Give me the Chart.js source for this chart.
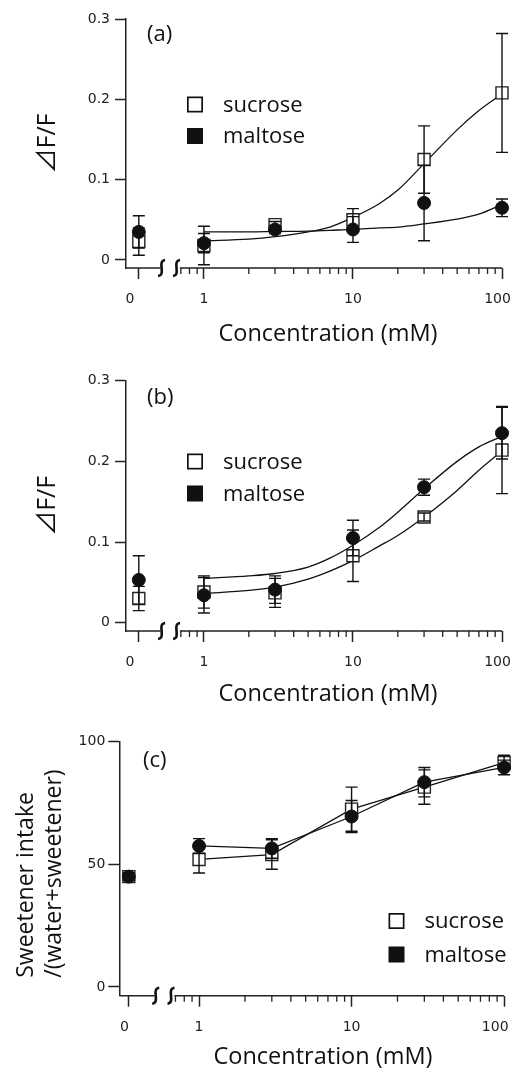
<!DOCTYPE html>
<html>
<head>
<meta charset="utf-8">
<script src="https://cdn.jsdelivr.net/npm/chart.js@4.4.1/dist/chart.umd.min.js"></script>
<style>
  html, body { margin: 0; padding: 0; background: #fff; }
  body { width: 514px; height: 1069px; position: relative; overflow: hidden; }
  canvas { position: absolute; left: 0; }
</style>
</head>
<body>
<canvas id="chart-a" width="514" height="350" style="top:0px"></canvas>
<canvas id="chart-b" width="514" height="355" style="top:350px"></canvas>
<canvas id="chart-c" width="514" height="364" style="top:705px"></canvas>
<script>
// Data: concentration in mM (0 = no sweetener, drawn left of the axis break)
const concentrations = [0, 1, 3, 10, 30, 100];
const seriesNames = ['sucrose', 'maltose'];

// (a) dF/F
const sucroseA = [0.023, 0.018, 0.044, 0.050, 0.125, 0.208];
const sucroseErrA = [0.017, 0.024, 0.004, 0.014, 0.042, 0.074];
const maltoseA = [0.035, 0.021, 0.038, 0.038, 0.071, 0.065];
const maltoseErrA = [0.020, 0.012, 0.005, 0.016, 0.047, 0.011];

// (b) dF/F
const sucroseB = [0.030, 0.038, 0.037, 0.083, 0.131, 0.214];
const sucroseErrB = [0.015, 0.020, 0.018, 0.032, 0.005, 0.054];
const maltoseB = [0.053, 0.034, 0.041, 0.105, 0.168, 0.235];
const maltoseErrB = [0.030, 0.022, 0.017, 0.022, 0.010, 0.032];

// fitted curves
const fitConc = [1, 2, 3, 5, 7, 10, 15, 20, 30, 50, 70, 100];
const sucroseFitA = [0.024, 0.026, 0.029, 0.035, 0.041, 0.053, 0.070, 0.087, 0.120, 0.162, 0.186, 0.207];
const maltoseFitA = [0.035, 0.035, 0.0355, 0.036, 0.037, 0.038, 0.040, 0.041, 0.045, 0.051, 0.057, 0.069];
const sucroseFitB = [0.036, 0.040, 0.044, 0.054, 0.064, 0.077, 0.095, 0.108, 0.131, 0.164, 0.189, 0.213];
const maltoseFitB = [0.055, 0.058, 0.061, 0.069, 0.080, 0.096, 0.118, 0.137, 0.166, 0.200, 0.218, 0.231];

// (c) sweetener intake / (water + sweetener), %
const sucroseC = [45, 52, 54, 72.5, 81.5, 91.5];
const sucroseErrC = [1.5, 5.5, 6, 9, 7, 3];
const maltoseC = [45, 57.5, 56.5, 69.5, 83.5, 89.5];
const maltoseErrC = [1.5, 3, 4, 6.5, 6, 3];

// Ticks
const xMajorConc = [0, 1, 10, 100];
const xTickLabels = ['0', '1', '10', '100'];
const xMinorConc = [0.7, 0.8, 0.9, 2, 3, 4, 5, 6, 7, 8, 9, 20, 30, 40, 50, 60, 70, 80, 90];
const yTicksRatio = [0, 0.1, 0.2, 0.3];
const yLabelsRatio = ['0', '0.1', '0.2', '0.3'];
const yTicksIntake = [0, 50, 100];
const yLabelsIntake = ['0', '50', '100'];

const AXIS = '#222';
const INK = '#111';
const TEXT_FONT = "'Open Sans', 'Noto Sans CJK JP', sans-serif";
const TICK_FONT = { family: "'DejaVu Sans', sans-serif", size: 14 };
const BREAK = [0.51, 0.69]; // gap in the x axis, mM
const SQUIGGLES = [0.52, 0.655];

Chart.defaults.animation = false;
Chart.defaults.devicePixelRatio = 1;

function toPoints(xs, ys, zeroAt) {
    return xs.map((c, i) => ({ x: c === 0 ? zeroAt : c, y: ys[i] }));
}

// error bars, broken x axis, minor ticks, legend and labels
const panelDecor = {
    id: 'panelDecor',
    afterDatasetDraw(chart, args) {
        const ds = chart.data.datasets[args.index];
        if (!ds.errors) return;
        const { ctx } = chart;
        const xs = chart.scales.x, ys = chart.scales.y;
        ctx.save();
        ctx.strokeStyle = INK;
        ctx.lineWidth = 1.4;
        ds.data.forEach((p, i) => {
            const e = ds.errors[i];
            const px = xs.getPixelForValue(p.x);
            const top = ys.getPixelForValue(p.y + e);
            const bot = ys.getPixelForValue(p.y - e);
            ctx.beginPath();
            ctx.moveTo(px, top); ctx.lineTo(px, bot);
            ctx.moveTo(px - 6, top); ctx.lineTo(px + 6, top);
            ctx.moveTo(px - 6, bot); ctx.lineTo(px + 6, bot);
            ctx.stroke();
        });
        ctx.restore();
    },
    afterDraw(chart, args, opts) {
        const { ctx, chartArea } = chart;
        const xs = chart.scales.x;
        const yAxis = chartArea.bottom;
        ctx.save();
        ctx.strokeStyle = AXIS;

        // x axis with break
        ctx.lineWidth = 1.5;
        ctx.beginPath();
        ctx.moveTo(chartArea.left, yAxis);
        ctx.lineTo(xs.getPixelForValue(BREAK[0]), yAxis);
        ctx.moveTo(xs.getPixelForValue(BREAK[1]), yAxis);
        ctx.lineTo(chartArea.right, yAxis);
        ctx.stroke();

        ctx.lineWidth = 2.6;
        ctx.strokeStyle = INK;
        SQUIGGLES.forEach(v => {
            const sx = xs.getPixelForValue(v);
            ctx.beginPath();
            ctx.moveTo(sx + 3.5, yAxis - 8);
            ctx.bezierCurveTo(sx - 5, yAxis - 7, sx + 5, yAxis + 7, sx - 3.5, yAxis + 8);
            ctx.stroke();
        });

        // minor ticks
        ctx.strokeStyle = AXIS;
        ctx.lineWidth = 1.3;
        ctx.beginPath();
        xMinorConc.forEach(v => {
            const tx = xs.getPixelForValue(v);
            ctx.moveTo(tx, yAxis);
            ctx.lineTo(tx, yAxis + 6);
        });
        ctx.stroke();

        // legend
        const [lx, ly, gap] = opts.legend;
        ctx.font = '22px ' + TEXT_FONT;
        ctx.textBaseline = 'middle';
        ctx.textAlign = 'left';
        seriesNames.forEach((name, i) => {
            const top = ly + i * gap;
            if (i === 0) {
                ctx.fillStyle = '#fff';
                ctx.fillRect(lx, top, 16, 16);
                ctx.lineWidth = 1.7;
                ctx.strokeStyle = INK;
                ctx.strokeRect(lx + 0.85, top + 0.85, 14.3, 14.3);
            } else {
                ctx.fillStyle = INK;
                ctx.fillRect(lx, top, 16, 16);
            }
            ctx.fillStyle = INK;
            ctx.fillText(name, lx + 36, top + 9);
        });

        // panel label
        ctx.fillText(opts.label, opts.labelPos[0], opts.labelPos[1]);

        // x title
        ctx.font = '23.5px ' + TEXT_FONT;
        ctx.textAlign = 'center';
        ctx.fillText('Concentration (mM)', opts.titlePos[0], opts.titlePos[1]);
        ctx.restore();
    }
};

const panels = [
    {
        id: 'chart-a', label: '(a)',
        sucrose: sucroseA, sucroseErr: sucroseErrA, maltose: maltoseA, maltoseErr: maltoseErrA,
        fits: [sucroseFitA, maltoseFitA], connect: false,
        yMin: -0.00996, yMax: 0.3, yTicks: yTicksRatio, yLabels: yLabelsRatio,
        yTitle: '⊿F/F', yTitleSize: 25, yTitleAlign: 'center',
        xMin: 0.3236, zeroAt: 0.3656, xLabelPad: [4, 0, 0, 2],
        pad: { top: 19, right: 12, left: 0, bottom: 0 }, yWidth: 126, xHeight: 82,
        yTickLen: 11, yTickPad: 5, yTitlePad: 33,
        labelPos: [147, 35], legend: [187, 96.5, 31.5], titlePos: [328, 334]
    },
    {
        id: 'chart-b', label: '(b)',
        sucrose: sucroseB, sucroseErr: sucroseErrB, maltose: maltoseB, maltoseErr: maltoseErrB,
        fits: [sucroseFitB, maltoseFitB], connect: false,
        yMin: -0.0103, yMax: 0.3, yTicks: yTicksRatio, yLabels: yLabelsRatio,
        yTitle: '⊿F/F', yTitleSize: 25, yTitleAlign: 'center',
        xMin: 0.3236, zeroAt: 0.3656, xLabelPad: [4, 0, 0, 2],
        pad: { top: 30.7, right: 12, left: 0, bottom: 0 }, yWidth: 126, xHeight: 74,
        yTickLen: 11, yTickPad: 5, yTitlePad: 33,
        labelPos: [147, 48], legend: [187, 103.5, 32], titlePos: [328, 344]
    },
    {
        id: 'chart-c', label: '(c)',
        sucrose: sucroseC, sucroseErr: sucroseErrC, maltose: maltoseC, maltoseErr: maltoseErrC,
        fits: [], connect: true,
        yMin: -3.55, yMax: 100, yTicks: yTicksIntake, yLabels: yLabelsIntake,
        // both lines start at the same height; leading spaces lift them off the axis end
        yTitle: ['   Sweetener intake', '   /(water+sweetener)'], yTitleSize: 23, yTitleAlign: 'start',
        xMin: 0.3027, zeroAt: 0.3464, xLabelPad: [2, 0, 0, 4],
        pad: { top: 36.7, right: 8, left: 0, bottom: 0 }, yWidth: 119.3, xHeight: 73.3,
        yTickLen: 11, yTickPad: 3, yTitlePad: 12,
        labelPos: [143, 56], legend: [388.5, 208, 33.5], titlePos: [323, 352]
    }
];

panels.forEach(p => {
    const datasets = [];
    p.fits.forEach((fit, i) => {
        datasets.push({
            label: seriesNames[i] + ' fit',
            data: toPoints(fitConc, fit, p.zeroAt),
            showLine: true, pointRadius: 0, borderColor: INK, borderWidth: 1.3,
            cubicInterpolationMode: 'monotone', clip: false, order: 3 + i
        });
    });
    const hideZeroSegment = {
        borderColor: ctx => (p.connect && ctx.p0DataIndex > 0) ? INK : 'rgba(0,0,0,0)'
    };
    datasets.push({
        label: seriesNames[0],
        data: toPoints(concentrations, p.sucrose, p.zeroAt),
        errors: p.sucroseErr,
        showLine: p.connect, borderColor: INK, borderWidth: 1.3, segment: hideZeroSegment,
        pointStyle: 'rect', pointRadius: 8.5, pointBackgroundColor: '#fff',
        pointBorderColor: '#222', pointBorderWidth: 1.4, clip: false, order: 1
    });
    datasets.push({
        label: seriesNames[1],
        data: toPoints(concentrations, p.maltose, p.zeroAt),
        errors: p.maltoseErr,
        showLine: p.connect, borderColor: INK, borderWidth: 1.3, segment: hideZeroSegment,
        pointStyle: 'circle', pointRadius: 6.5, pointBackgroundColor: INK,
        pointBorderColor: INK, pointBorderWidth: 1, clip: false, order: 0
    });

    const xMajor = xMajorConc.map(c => (c === 0 ? p.zeroAt : c));

    new Chart(document.getElementById(p.id), {
        type: 'scatter',
        data: { datasets },
        plugins: [panelDecor],
        options: {
            responsive: false,
            layout: { padding: p.pad },
            plugins: {
                legend: { display: false },
                tooltip: { enabled: false },
                panelDecor: { label: p.label, labelPos: p.labelPos, legend: p.legend, titlePos: p.titlePos }
            },
            scales: {
                x: {
                    type: 'logarithmic', min: p.xMin, max: 100,
                    afterBuildTicks: s => { s.ticks = xMajor.map(v => ({ value: v })); },
                    afterFit: s => { s.height = p.xHeight; s.paddingLeft = 0; s.paddingRight = 0; },
                    grid: { display: true, drawOnChartArea: false, drawTicks: true, tickLength: 11, tickWidth: 1.5, tickColor: AXIS },
                    border: { display: false },
                    ticks: {
                        font: TICK_FONT, color: AXIS, padding: 12, maxRotation: 0, autoSkip: false,
                        // trailing spaces nudge the end labels left, as in the original figure
                        callback: (v, i) => xTickLabels[i] + ' '.repeat(p.xLabelPad[i])
                    }
                },
                y: {
                    type: 'linear', min: p.yMin, max: p.yMax,
                    afterBuildTicks: s => { s.ticks = p.yTicks.map(v => ({ value: v })); },
                    afterFit: s => { s.width = p.yWidth; s.paddingTop = 0; s.paddingBottom = 0; },
                    grid: { display: true, drawOnChartArea: false, drawTicks: true, tickLength: p.yTickLen, tickWidth: 1.5, tickColor: AXIS },
                    border: { display: true, color: AXIS, width: 1.5 },
                    ticks: { font: TICK_FONT, color: AXIS, padding: p.yTickPad, callback: (v, i) => p.yLabels[i] },
                    title: {
                        display: true, text: p.yTitle, color: INK, align: p.yTitleAlign,
                        font: { family: TEXT_FONT, size: p.yTitleSize, lineHeight: 1.22 },
                        padding: { top: p.yTitlePad, bottom: 0 }
                    }
                }
            }
        }
    });
});
</script>
</body>
</html>
